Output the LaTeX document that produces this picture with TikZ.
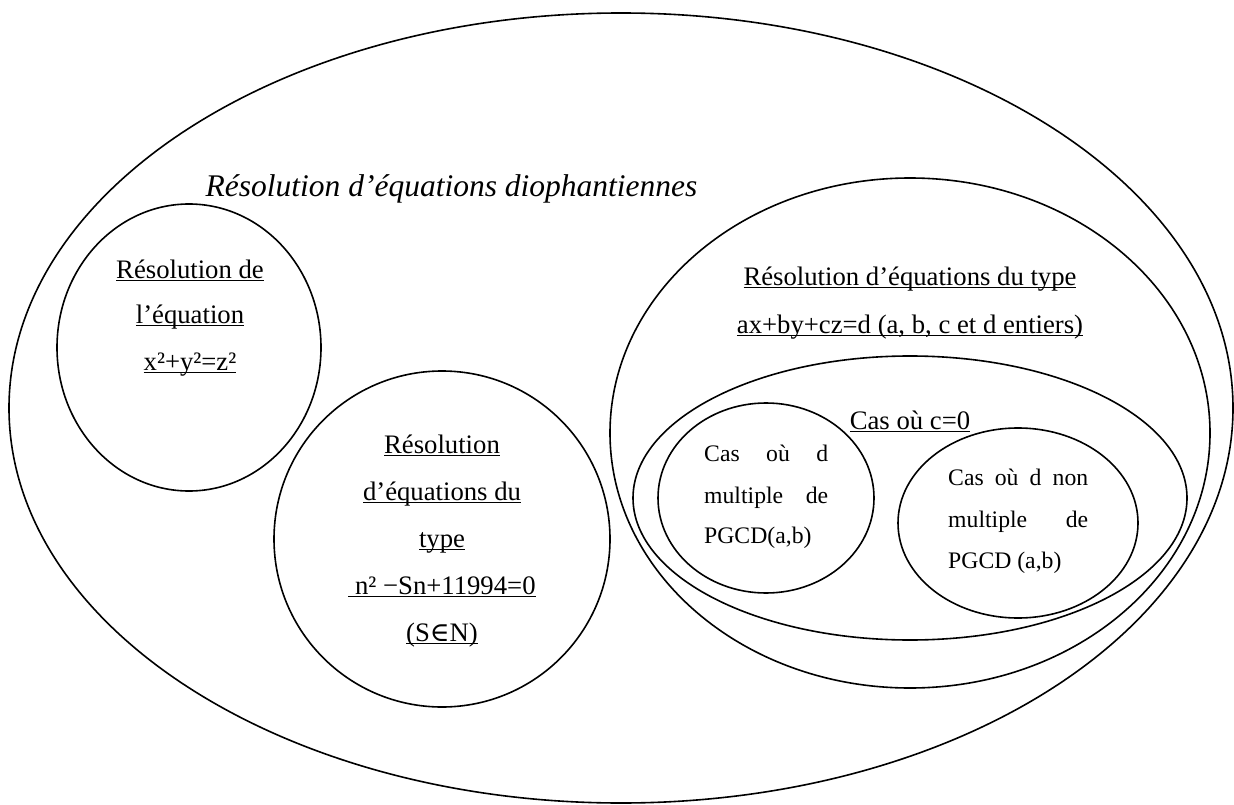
\documentclass[tikz,border=0pt]{standalone}
\usepackage{fontspec}
\setmainfont{Liberation Serif}
\newfontfamily\symfnt{DejaVu Serif}
\usetikzlibrary{shapes.geometric}
\newcommand\ulx[1]{\setbox0\hbox{#1}\rlap{\rule[-3pt]{\wd0}{1.4pt}}\box0}
\tikzset{
  blob/.style 2 args={draw, ellipse, line width=1.6pt, inner sep=0pt, minimum width=#1, minimum height=#2},
  bodytxt/.style={inner sep=0pt, anchor=base, font=\fontsize{26.7}{30}\selectfont},
  smalltxt/.style={inner sep=0pt, anchor=base west, font=\fontsize{23.7}{28}\selectfont},
  titletxt/.style={inner sep=0pt, anchor=base, font=\fontsize{31.5}{36}\selectfont\itshape}
}
\begin{document}
\begin{tikzpicture}[x=1pt,y=-1pt]
\useasboundingbox (0,0) rectangle (1234,805);
% sets
\node[blob={1224pt}{790pt}] (outer) at (621,408) {};
\node[blob={264pt}{287pt}] (pyth) at (189,347.5) {};
\node[blob={336pt}{336pt}] (quad) at (442,539) {};
\node[blob={600pt}{510pt}] (lin) at (910,433) {};
\node[blob={554pt}{284pt}] (czero) at (910,498) {};
\node[blob={216pt}{190pt}] (dmult) at (766,498) {};
\node[blob={240pt}{190pt}] (dnon) at (1018,523) {};
% title
\node[titletxt] (title) at (451.5,197) {Résolution d’équations diophantiennes};
% left circle
\node[bodytxt] (p1) at (190,278) {\ulx{Résolution de}};
\node[bodytxt] (p2) at (190,323) {\ulx{l’équation}};
\node[bodytxt] (p3) at (190,370) {\ulx{x²+y²=z²}};
% middle circle
\node[bodytxt] (q1) at (442,453) {\ulx{Résolution}};
\node[bodytxt] (q2) at (442,500) {\ulx{d’équations du}};
\node[bodytxt] (q3) at (442,547) {\ulx{type}};
\node[bodytxt] (q4) at (442,594) {\ulx{\ n² −Sn+11994=0}};
\node[bodytxt] (q5) at (442,641) {\ulx{(S{\symfnt ∈}N)}};
% right ellipse
\node[bodytxt] (r1) at (910,285) {\ulx{Résolution d’équations du type}};
\node[bodytxt] (r2) at (910,333) {\ulx{ax+by+cz=d (a, b, c et d entiers)}};
\node[bodytxt] (c0) at (910,429) {\ulx{Cas où c=0}};
% d multiple
\node[smalltxt] (d1) at (704,461) {\makebox[124pt][s]{Cas où d}};
\node[smalltxt] (d2) at (704,503) {\makebox[124pt][s]{multiple de}};
\node[smalltxt] (d3) at (704,543) {PGCD(a,b)};
% d non multiple
\node[smalltxt] (n1) at (948,485) {\makebox[140pt][s]{Cas où d non}};
\node[smalltxt] (n2) at (948,527) {\makebox[140pt][s]{multiple de}};
\node[smalltxt] (n3) at (948,568) {PGCD (a,b)};
\end{tikzpicture}
\end{document}
